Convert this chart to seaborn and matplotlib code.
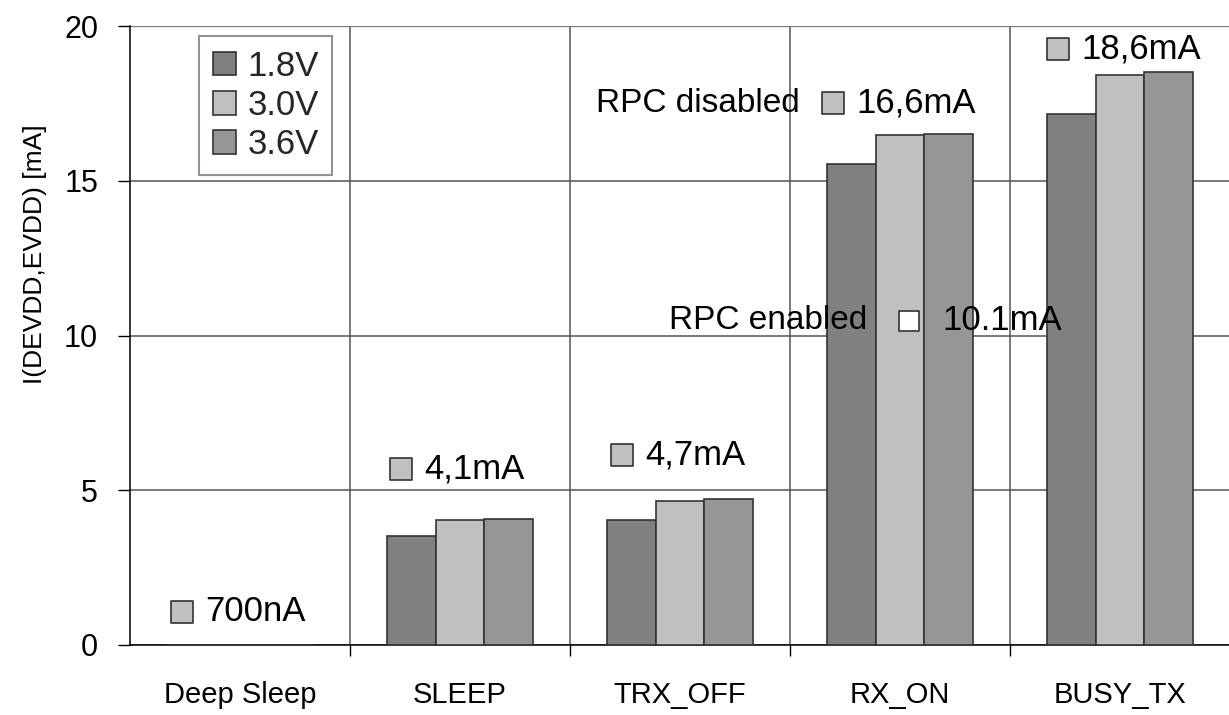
import matplotlib
matplotlib.use("Agg")
import matplotlib.pyplot as plt
import seaborn as sns
import pandas as pd
from matplotlib.patches import Patch

# ---- data ----
modes = ["Deep Sleep", "SLEEP", "TRX_OFF", "RX_ON", "BUSY_TX"]
voltages = ["1.8V", "3.0V", "3.6V"]
v18 = [0.0007, 3.52, 4.04, 15.54, 17.17]
v30 = [0.0007, 4.04, 4.65, 16.48, 18.41]
v36 = [0.0007, 4.07, 4.72, 16.52, 18.50]
colors = ["#808080", "#c0c0c0", "#969696"]
ylabel = "I(DEVDD,EVDD) [mA]"
yticks = [0, 5, 10, 15, 20]

# annotations: (x, y, label)
square_notes = [(-0.264, 1.07, "700nA"), (0.732, 5.69, "4,1mA"), (1.736, 6.14, "4,7mA"),
                (2.695, 17.51, "16,6mA"), (3.718, 19.26, "18,6mA")]
enabled_note = (3.041, 10.47, "10.1mA")
side_labels = [(2.545, 17.51, "RPC disabled"), (2.85, 10.47, "RPC enabled")]

df = pd.DataFrame({
    "mode": modes * 3,
    "current": v18 + v30 + v36,
    "voltage": [voltages[0]] * 5 + [voltages[1]] * 5 + [voltages[2]] * 5,
})

sns.set_theme(style="white")
plt.rcParams["font.family"] = ["Liberation Sans", "DejaVu Sans"]

fig = plt.figure(figsize=(12.29, 7.15), dpi=100)
ax = fig.add_axes([130 / 1229, 1 - 645 / 715, 1100 / 1229, 619 / 715])

sns.barplot(data=df, x="mode", y="current", hue="voltage", order=modes,
            hue_order=voltages, palette=colors, edgecolor="#333333",
            linewidth=1.2, width=0.667, gap=0, ax=ax, legend=False, zorder=3)

ax.set_ylim(0, 20)
ax.set_xlim(-0.5, 4.5)
ax.set_yticks(yticks)
ax.set_xticks(range(5))
ax.set_xticklabels(modes, fontsize=21)
ax.set_xticks([0.5, 1.5, 2.5, 3.5, 4.5], minor=True)
ax.tick_params(axis="x", which="major", length=0, pad=26)
ax.tick_params(axis="x", which="minor", length=8, width=1, color="black", direction="out", bottom=True)
ax.tick_params(axis="y", which="major", length=9, width=1, color="black", direction="out",
               left=True, labelsize=22, pad=14)
for lab in ax.get_yticklabels() + ax.get_xticklabels():
    lab.set_color("black")

ax.grid(axis="y", which="major", color="#555555", linewidth=1.1, zorder=0)
ax.grid(axis="x", which="minor", color="#555555", linewidth=1.1, zorder=0)
ax.set_axisbelow(True)

for side in ["top", "right"]:
    ax.spines[side].set_visible(False)
ax.spines["left"].set_color("black")
ax.spines["left"].set_linewidth(1.1)
ax.spines["bottom"].set_color("black")
ax.spines["bottom"].set_linewidth(1.1)
ax.axhline(20, color="#777777", linewidth=1.6, zorder=1)

ax.set_xlabel("")
ax.set_ylabel(ylabel, fontsize=19, color="black")
ax.yaxis.set_label_coords(-0.075, 0.632)

# legend
handles = [Patch(facecolor=c, edgecolor="#333333", linewidth=1.2, label=v)
           for c, v in zip(colors, voltages)]
leg = ax.legend(handles=handles, loc="upper left", bbox_to_anchor=(0.0627, 0.984),
                borderaxespad=0, fontsize=25, frameon=True, fancybox=False,
                handlelength=0.66, handleheight=0.66, handletextpad=0.33,
                labelspacing=0.18, borderpad=0.4)
leg.get_frame().set_edgecolor("#777777")
leg.get_frame().set_linewidth(1.5)
leg.set_zorder(5)

# annotations
for x, y, t in square_notes:
    ax.scatter([x], [y], marker="s", s=272, facecolor="#c0c0c0", edgecolor="#333333",
               linewidth=1.2, zorder=6)
    ax.text(x + 0.105, y, t, fontsize=25, ha="left", va="center", color="black", zorder=6)
x, y, t = enabled_note
ax.scatter([x], [y], marker="s", s=210, facecolor="white", edgecolor="#333333",
           linewidth=1.2, zorder=6)
ax.text(x + 0.15, y, t, fontsize=25, ha="left", va="center", color="black", zorder=6)
for x, y, t in side_labels:
    ax.text(x, y, t, fontsize=24, ha="right", va="center", color="black", zorder=6)

fig.savefig("out.png", dpi=100)
